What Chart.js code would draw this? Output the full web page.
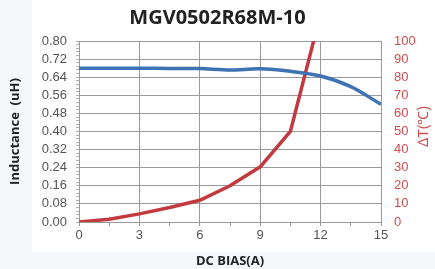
<!DOCTYPE html>
<html>
<head>
<meta charset="utf-8">
<script src="https://cdn.jsdelivr.net/npm/chart.js@4"></script>
<style>
	html, body { margin: 0; padding: 0; background: #f5f8fb; }
	#wrap { width: 435px; height: 269px; }
</style>
</head>
<body>
<div id="wrap"><canvas id="lineChart" width="435" height="269"></canvas></div>
<script>
let currentA = [0, 1.5, 3, 4.5, 6, 7.5, 9, 10.5, 12, 13.5, 15];
let inductance = [0.68, 0.68, 0.68, 0.679, 0.678, 0.672, 0.677, 0.666, 0.645, 0.598, 0.52];

let tempCurrent = [0, 1.5, 3, 4.5, 6, 7.5, 9, 10.5, 12];
let tempRise = [0, 1.5, 4.5, 8, 12, 20, 30.5, 50, 115];

let titleText = "MGV0502R68M-10";
let tempTitle = "\u0394T(\u2103)";

const pairs = (xs, ys) => xs.map((x, i) => ({ x: x, y: ys[i] }));

let dataFirst = {
	label: "Inductance",
	data: pairs(currentA, inductance),
	yAxisID: "y",
	borderColor: "#3f72b3",
	borderWidth: 3.5,
	pointRadius: 0,
	tension: 0.3,
	fill: false,
};

let dataSecond = {
	label: "Temp",
	data: pairs(tempCurrent, tempRise),
	yAxisID: "y1",
	borderColor: "#c23a3e",
	borderWidth: 3.5,
	pointRadius: 0,
	tension: 0,
	fill: false,
};

// white paper behind the chart, light blue band around it
const paper = {
	id: "paper",
	beforeDraw(chart) {
		const c = chart.ctx;
		c.save();
		c.fillStyle = "#ffffff";
		c.fillRect(32, 0, 403, 252);
		c.restore();
	},
	afterDraw(chart) {
		// right axis title reads bottom to top
		const c = chart.ctx;
		const a = chart.chartArea;
		c.save();
		c.translate(424, (a.top + a.bottom) / 2 - 5);
		c.rotate(-Math.PI / 2);
		c.fillStyle = "#d14b4f";
		c.font = "14px 'Liberation Sans'";
		c.textAlign = "center";
		c.textBaseline = "middle";
		c.fillText(tempTitle, 0, 0);
		c.restore();
	},
};

const isMajor = (v, step) => Math.abs(v / step - Math.round(v / step)) < 1e-6;

let chartOptions = {
	responsive: false,
	animation: false,
	layout: { padding: 0 },
	plugins: {
		legend: { display: false },
		tooltip: { enabled: false },
		title: {
			display: true,
			text: titleText,
			color: "#222",
			font: { family: "'Open Sans'", size: 20, weight: "bold" },
			padding: { top: 6, bottom: 11 },
		},
	},
	scales: {
		x: {
			type: "linear",
			min: 0,
			max: 15,
			afterBuildTicks(axis) {
				let t = [];
				for (let v = 0; v <= 15; v += 1.5) t.push({ value: v });
				axis.ticks = t;
			},
			afterFit(axis) { axis.height = 47; },
			grid: {
				color: (ctx) => (isMajor(ctx.tick.value, 3) ? "#9a9a9a" : "rgba(0,0,0,0)"),
				tickColor: "#9a9a9a",
				tickLength: 4,
			},
			border: { color: "#9a9a9a" },
			ticks: {
				autoSkip: false,
				maxRotation: 0,
				padding: 2,
				color: "#555",
				font: { family: "'Liberation Sans'", size: 13 },
				callback: (v) => (isMajor(v, 3) ? v : ""),
			},
			title: {
				display: true,
				text: "DC BIAS(A)",
				color: "#222",
				font: { family: "'Open Sans'", size: 13, weight: "bold" },
				padding: { top: 0, bottom: 0 },
			},
		},
		y: {
			position: "left",
			min: 0,
			max: 0.8,
			afterBuildTicks(axis) {
				let t = [];
				for (let i = 0; i <= 50; i++) t.push({ value: i * 0.016 });
				axis.ticks = t;
			},
			afterFit(axis) { axis.width = 79; },
			grid: {
				color: (ctx) => (isMajor(ctx.tick.value, 0.08) ? "#9a9a9a" : "rgba(0,0,0,0)"),
				tickColor: "#b0b0b0",
				tickLength: 3,
			},
			border: { color: "#9a9a9a" },
			ticks: {
				autoSkip: false,
				padding: 9,
				color: "#555",
				font: { family: "'Liberation Sans'", size: 13 },
				callback: (v) => (isMajor(v, 0.08) ? v.toFixed(2) : ""),
			},
			title: {
				display: true,
				text: "Inductance  (uH)",
				color: "#222",
				font: { family: "'Open Sans'", size: 13, weight: "bold" },
				padding: { top: 7, bottom: 0 },
			},
		},
		y1: {
			position: "right",
			min: 0,
			max: 100,
			afterFit(axis) { axis.width = 54; },
			grid: { drawOnChartArea: false, drawTicks: false },
			border: { color: "#9a9a9a" },
			ticks: {
				stepSize: 10,
				autoSkip: false,
				padding: 13,
				color: "#d14b4f",
				font: { family: "'Liberation Sans'", size: 13 },
			},
		},
	},
};

let lineData = {
	datasets: [dataFirst, dataSecond],
};

let ctx = new Chart(document.getElementById("lineChart"), {
	type: "line",
	data: lineData,
	options: chartOptions,
	plugins: [paper],
});
</script>
</body>
</html>
